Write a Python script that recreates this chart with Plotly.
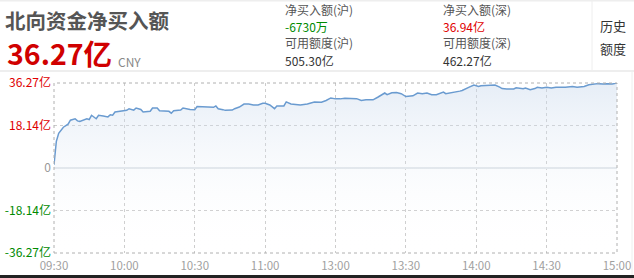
import plotly.graph_objects as go

# ---- data ----
times = ["09:30","09:31","09:32","09:34","09:36","09:37","09:39","09:40","09:41","09:43",
         "09:44","09:45","09:46","09:48","09:49","09:51","09:53","09:54","09:55","09:56",
         "09:59","10:01","10:02","10:04","10:05","10:07","10:08","10:11","10:12","10:14",
         "10:15","10:17","10:19","10:20","10:21","10:24","10:25","10:28","10:30","10:31",
         "10:35","10:38","10:39","10:40","10:42","10:43","10:46","10:47","10:49","10:51",
         "10:53","10:55","10:57","10:59","11:00","11:02","11:04","11:05","11:08","11:09",
         "11:11","11:15","11:18","11:20","11:21","11:24","11:26","11:28","13:00","13:02",
         "13:04","13:09","13:11","13:13","13:16","13:18","13:19","13:21","13:22","13:24",
         "13:26","13:28","13:30","13:32","13:33","13:35","13:37","13:39","13:41","13:43",
         "13:45","13:46","13:47","13:49","13:51","13:53","13:54","13:56","13:57","13:59",
         "14:01","14:02","14:05","14:08","14:10","14:11","14:13","14:16","14:17","14:20",
         "14:21","14:23","14:25","14:26","14:28","14:30","14:32","14:34","14:38","14:41",
         "14:43","14:46","14:48","14:50","14:52","14:54","14:56","14:58","14:59","15:00"]
net_buy = [1.4, 11.4, 14.8, 17.4, 18.7, 20.4, 21.0, 20.1, 19.9, 20.6,
           21.0, 20.7, 22.5, 21.0, 22.5, 22.2, 21.8, 22.7, 22.5, 23.9,
           24.4, 24.6, 25.3, 24.7, 25.6, 25.0, 23.9, 24.2, 25.6, 25.6,
           24.4, 24.4, 24.2, 23.4, 24.4, 24.7, 25.6, 25.0, 24.9, 26.2,
           26.2, 25.9, 26.5, 25.3, 24.9, 24.6, 24.7, 25.3, 26.0, 27.3,
           27.3, 26.9, 26.9, 27.6, 27.6, 26.9, 25.3, 26.5, 26.5, 28.2,
           27.3, 26.9, 27.3, 27.8, 28.2, 28.1, 28.8, 29.9, 29.5, 29.5,
           29.8, 29.6, 28.8, 29.1, 29.1, 30.2, 30.8, 32.0, 31.3, 32.1,
           32.2, 31.7, 30.5, 30.5, 30.8, 32.0, 31.7, 32.0, 31.3, 31.3,
           32.0, 32.4, 31.7, 32.0, 32.5, 32.8, 33.1, 34.2, 34.5, 35.4,
           34.8, 35.1, 35.4, 35.4, 34.5, 33.9, 33.7, 33.7, 34.2, 33.8,
           34.1, 33.4, 33.9, 34.4, 34.1, 34.4, 34.1, 34.5, 34.5, 34.8,
           34.5, 34.8, 35.5, 35.7, 36.0, 35.8, 36.0, 35.8, 36.2, 36.27]
y_max = 36.27
y_ticks = [36.27, 18.14, 0, -18.14, -36.27]
x_tick_labels = ["09:30","10:00","10:30","11:00","13:00","13:30","14:00","14:30","15:00"]

title_text = "北向资金净买入额"
total_text = "36.27亿"
currency = "CNY"
info_labels = ["净买入额(沪)", "可用额度(沪)", "净买入额(深)", "可用额度(深)"]
info_values = ["-6730万", "505.30亿", "36.94亿", "462.27亿"]
side_labels = ["历史", "额度"]


def to_index(t):
    h, m = map(int, t.split(":"))
    mins = h * 60 + m
    if mins <= 11 * 60 + 30:
        return mins - (9 * 60 + 30)
    return 120 + mins - 13 * 60


xs = [to_index(t) for t in times]
x_tick_vals = [to_index(t) for t in x_tick_labels]

FONT = "Noto Sans CJK SC, Noto Sans, sans-serif"
RED = "#e00000"
GREEN = "#008a00"

W, H = 634, 278
ML, MR, MT, MB = 54, 17, 83, 25
PW, PH = W - ML - MR, H - MT - MB


def px(x):
    return (x - ML) / PW


def py(y):
    return (H - MB - y) / PH


fig = go.Figure()
# baseline for gradient fill
fig.add_trace(go.Scatter(x=[xs[0], xs[-1]], y=[-y_max, -y_max], mode="lines",
                         line=dict(width=0), hoverinfo="skip", showlegend=False))
fig.add_trace(go.Scatter(
    x=xs, y=net_buy, mode="lines",
    line=dict(color="#6a9bd0", width=1.5),
    fill="tonexty",
    fillgradient=dict(type="vertical",
                      colorscale=[[0, "rgba(255,255,255,0.0)"],
                                  [1, "rgba(200,216,236,0.45)"]]),
    showlegend=False))


def ylab(v):
    if v > 0:
        return f"<span style='color:{RED}'>{v:.2f}亿</span>"
    if v < 0:
        return f"<span style='color:{GREEN}'>{v:.2f}亿</span>"
    return "0"


fig.update_layout(
    width=W, height=H,
    margin=dict(l=ML, r=MR, t=MT, b=MB),
    paper_bgcolor="white", plot_bgcolor="white",
    font=dict(family=FONT, size=12, color="#999999"),
    xaxis=dict(range=[0, 240], tickvals=x_tick_vals, ticktext=x_tick_labels,
               showgrid=True, gridcolor="#cccccc", griddash="dot", gridwidth=1,
               zeroline=False, showline=False, ticks="", automargin=False,
               ticklabelstandoff=4,
               tickfont=dict(size=11.5, color="#a0a0a0"), fixedrange=True),
    yaxis=dict(range=[-y_max, y_max], tickvals=y_ticks,
               ticktext=[ylab(v) for v in y_ticks],
               showgrid=True, gridcolor="#cccccc", griddash="dot", gridwidth=1,
               zeroline=True, zerolinecolor="#e2e6ea", zerolinewidth=2,
               showline=False, ticks="", ticklabelstandoff=2, automargin=False,
               tickfont=dict(size=12, color="#999999"), fixedrange=True),
)

shapes = []
# dotted frame
shapes.append(dict(type="rect", xref="paper", yref="paper", x0=0, x1=1, y0=0, y1=1,
                   line=dict(color="#b0b0b0", width=1, dash="dot"), layer="above"))
# header separators
shapes.append(dict(type="line", xref="paper", yref="paper", x0=px(0), x1=px(W),
                   y0=py(71), y1=py(71), line=dict(color="#eeeeee", width=2)))
shapes.append(dict(type="line", xref="paper", yref="paper", x0=px(0), x1=px(W),
                   y0=py(0.5), y1=py(0.5), line=dict(color="#eeeeee", width=2)))
shapes.append(dict(type="line", xref="paper", yref="paper", x0=px(592), x1=px(592),
                   y0=py(0), y1=py(71), line=dict(color="#eeeeee", width=1)))
shapes.append(dict(type="line", xref="paper", yref="paper", x0=px(632), x1=px(632),
                   y0=py(71), y1=py(275), line=dict(color="#eeeeee", width=1)))
# bottom dark band
shapes.append(dict(type="rect", xref="paper", yref="paper", x0=px(0), x1=px(W),
                   y0=py(278), y1=py(275), fillcolor="#222222", line=dict(width=0)))
fig.update_layout(shapes=shapes)

ann = []


def add_text(text, x, y, size, color, bold=False, xanchor="left"):
    t = f"<b>{text}</b>" if bold else text
    ann.append(dict(text=t, x=px(x), y=py(y), xref="paper", yref="paper",
                    xanchor=xanchor, yanchor="middle", showarrow=False,
                    borderpad=0, font=dict(family=FONT, size=size, color=color)))


add_text(title_text, 4, 20, 20.5, "#555555", bold=True)
add_text(total_text, 6, 53, 28.5, "#d00000", bold=True)
add_text(currency, 117, 61, 12, "#888888")

col_x = [284, 284, 442, 442]
add_text(info_labels[0], col_x[0], 9, 12, "#555555")
add_text(info_values[0], col_x[0], 26, 12, GREEN)
add_text(info_labels[1], col_x[1], 43, 12, "#555555")
add_text(info_values[1], col_x[1], 60, 12, "#333333")
add_text(info_labels[2], col_x[2], 9, 12, "#555555")
add_text(info_values[2], col_x[2], 26, 12, RED)
add_text(info_labels[3], col_x[3], 43, 12, "#555555")
add_text(info_values[3], col_x[3], 60, 12, "#333333")

add_text(side_labels[0], 599, 25, 13, "#333333")
add_text(side_labels[1], 599, 48, 13, "#333333")

fig.update_layout(annotations=ann)
fig.write_html("out.html")
